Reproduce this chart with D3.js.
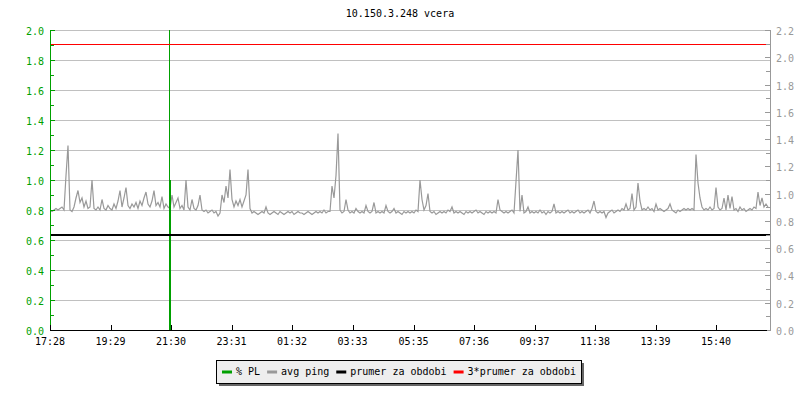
<!DOCTYPE html>
<meta charset="utf-8">
<script src="https://d3js.org/d3.v7.min.js"></script>
<style>
  body { margin: 0; background: #fff; }
  text { font-family: "DejaVu Sans Mono", monospace; font-size: 10px; }
</style>
<body>
<div id="chart"></div>
<script>

// chart data
var titleText = "10.150.3.248 vcera";
var xTickLabels = ["17:28","19:29","21:30","23:31","01:32","03:33","05:35","07:36","09:37","11:38","13:39","15:40"];
var xTickMinutes = [0, 121, 242, 363, 484, 605, 727, 848, 969, 1090, 1211, 1332];
var sampleMinutes = 4;   // one ping sample every 4 minutes
var pingValues = [
  0.80,0.79,0.80,0.81,0.80,0.81,0.82,0.80,1.03,1.23,0.80,0.79,0.82,0.88,0.93,0.85,0.88,0.82,0.86,0.81,
  0.82,1.00,0.81,0.80,0.82,0.80,0.87,0.81,0.80,0.83,0.81,0.80,0.84,0.81,0.86,0.93,0.82,0.88,0.95,0.83,
  0.81,0.84,0.82,0.85,0.81,0.86,0.83,0.88,0.92,0.84,0.82,0.86,0.93,0.83,0.85,0.82,0.89,0.81,0.84,0.82,
  0.81,0.90,0.82,0.85,0.88,0.81,0.83,0.80,1.00,0.82,0.80,0.87,0.81,0.80,0.83,0.90,0.80,0.79,0.80,0.78,
  0.79,0.80,0.78,0.79,0.76,0.78,0.90,0.85,0.96,0.88,1.07,0.87,0.82,0.86,0.83,0.87,0.82,0.86,0.90,1.07,
  0.81,0.78,0.79,0.78,0.77,0.78,0.79,0.78,0.82,0.78,0.77,0.78,0.79,0.78,0.77,0.79,0.78,0.77,0.78,0.79,
  0.78,0.79,0.77,0.78,0.79,0.78,0.78,0.77,0.78,0.79,0.78,0.77,0.78,0.79,0.78,0.79,0.78,0.80,0.78,0.79,
  0.79,0.96,0.88,1.03,1.31,0.80,0.78,0.79,0.87,0.80,0.78,0.79,0.78,0.81,0.79,0.78,0.79,0.78,0.83,0.79,
  0.78,0.79,0.85,0.78,0.79,0.78,0.79,0.78,0.83,0.79,0.78,0.79,0.81,0.78,0.79,0.78,0.77,0.79,0.78,0.79,
  0.78,0.79,0.78,0.80,0.79,1.00,0.87,0.80,0.83,0.91,0.79,0.78,0.79,0.77,0.78,0.79,0.78,0.79,0.78,0.80,
  0.79,0.82,0.78,0.79,0.78,0.79,0.78,0.77,0.79,0.78,0.79,0.78,0.79,0.80,0.78,0.79,0.78,0.77,0.79,0.78,
  0.79,0.78,0.79,0.78,0.87,0.80,0.79,0.78,0.79,0.78,0.79,0.80,0.78,0.99,1.20,0.79,0.90,0.78,0.79,0.82,
  0.78,0.79,0.78,0.79,0.78,0.80,0.78,0.79,0.77,0.79,0.78,0.79,0.84,0.78,0.79,0.78,0.79,0.78,0.79,0.80,
  0.78,0.79,0.78,0.79,0.80,0.78,0.79,0.78,0.79,0.80,0.78,0.81,0.86,0.79,0.78,0.79,0.78,0.79,0.75,0.78,
  0.79,0.80,0.78,0.79,0.80,0.79,0.81,0.80,0.84,0.80,0.81,0.91,0.80,0.82,0.98,0.86,0.80,0.81,0.80,0.82,
  0.80,0.81,0.79,0.84,0.80,0.81,0.80,0.79,0.80,0.81,0.84,0.80,0.79,0.78,0.80,0.79,0.80,0.81,0.80,0.81,
  0.80,0.81,0.80,1.17,0.98,0.88,0.82,0.80,0.81,0.80,0.82,0.80,0.81,0.95,0.82,0.80,0.81,0.88,0.80,0.90,
  0.81,0.89,0.80,0.81,0.79,0.82,0.80,0.81,0.79,0.80,0.81,0.80,0.82,0.81,0.92,0.83,0.88,0.82,0.84,0.82
];
var plMinutes = [240];
var plValues = [1.0];      // % PL sample
var plMaxValues = [2.5];   // peak in the same slot, runs off the top
var averageValue = 0.634;  // prumer za obdobi
var legendLabels = ["% PL", "avg ping", "prumer za obdobi", "3*prumer za obdobi"];
var legendColors = ["#00a000", "#999999", "#000000", "#ff0000"];

var width = 800, height = 400;
var plot = {left: 50, right: 770, top: 30, bottom: 330};

var svg = d3.select("#chart")
  .append("svg")
    .attr("width", width)
    .attr("height", height);

var x = d3.scaleLinear().domain([0, 1440]).range([plot.left, plot.right]);
var y = d3.scaleLinear().domain([0, 2.0]).range([plot.bottom, plot.top]);
var yRight = d3.scaleLinear().domain([0, 2.2]).range([plot.bottom, plot.top]);

svg.append("clipPath").attr("id", "clip")
  .append("rect")
    .attr("x", plot.left).attr("y", plot.top)
    .attr("width", plot.right - plot.left).attr("height", plot.bottom - plot.top);

// title
svg.append("text")
  .attr("x", width / 2)
  .attr("y", 17)
  .attr("text-anchor", "middle")
  .attr("fill", "#000")
  .text(titleText);

// grid
svg.append("g")
  .selectAll("line")
  .data(d3.range(1, 11).map(function(i) { return i * 0.2; }))
  .enter()
  .append("line")
    .attr("x1", plot.left).attr("x2", plot.right)
    .attr("y1", function(d) { return y(d); })
    .attr("y2", function(d) { return y(d); })
    .attr("stroke", "#c0c0c0")
    .attr("shape-rendering", "crispEdges");

// avg ping
var pingLine = d3.line()
  .x(function(d, i) { return x(i * sampleMinutes); })
  .y(function(d) { return y(d); });

svg.append("path")
  .datum(pingValues)
  .attr("clip-path", "url(#clip)")
  .attr("fill", "none")
  .attr("stroke", "#999999")
  .attr("stroke-width", 1.2)
  .attr("d", pingLine);

// % PL
svg.append("g").attr("clip-path", "url(#clip)")
  .selectAll("line")
  .data(plMinutes)
  .enter()
  .append("line")
    .attr("x1", function(d) { return x(d) - 0.5; })
    .attr("x2", function(d) { return x(d) - 0.5; })
    .attr("y1", function(d, i) { return y(plValues[i]); })
    .attr("y2", function(d, i) { return y(plMaxValues[i]); })
    .attr("stroke", "#00a000")
    .attr("stroke-width", 1);

svg.append("g").attr("clip-path", "url(#clip)")
  .selectAll("line")
  .data(plMinutes)
  .enter()
  .append("line")
    .attr("x1", function(d) { return x(d); })
    .attr("x2", function(d) { return x(d); })
    .attr("y1", y(0))
    .attr("y2", function(d, i) { return y(plValues[i]); })
    .attr("stroke", "#00a000")
    .attr("stroke-width", 2);

// average and 3*average
svg.append("line")
  .attr("x1", plot.left).attr("x2", plot.right)
  .attr("y1", y(averageValue)).attr("y2", y(averageValue))
  .attr("stroke", "#000").attr("stroke-width", 2);

svg.append("line")
  .attr("x1", plot.left).attr("x2", plot.right)
  .attr("y1", y(3 * averageValue)).attr("y2", y(3 * averageValue))
  .attr("stroke", "#ff0000").attr("stroke-width", 1)
  .attr("shape-rendering", "crispEdges");

// left axis (green)
var leftAxis = svg.append("g")
  .attr("transform", "translate(" + plot.left + ",0)")
  .call(d3.axisRight(y).tickValues(d3.range(0, 21).map(function(i) { return i / 10; }))
    .tickSize(5).tickFormat(""));
leftAxis.select(".domain").attr("stroke", "#00a000").attr("shape-rendering", "crispEdges");
leftAxis.selectAll(".tick line")
  .attr("stroke", "#00a000")
  .attr("x2", function(d, i) { return i % 2 == 0 ? 5 : 4; })
  .attr("shape-rendering", "crispEdges");

svg.append("g")
  .selectAll("text")
  .data(y.ticks(10))
  .enter()
  .append("text")
    .attr("x", 44)
    .attr("y", function(d) { return y(d) + 5; })
    .attr("text-anchor", "end")
    .attr("fill", "#00a000")
    .text(function(d) { return d3.format(".1f")(d); });

// right axis (gray)
var rightAxis = svg.append("g")
  .attr("transform", "translate(" + plot.right + ",0)")
  .call(d3.axisLeft(yRight).tickValues(d3.range(0, 23).map(function(i) { return i / 10; }))
    .tickSize(5).tickFormat(""));
rightAxis.select(".domain").attr("stroke", "#999999").attr("shape-rendering", "crispEdges");
rightAxis.selectAll(".tick line")
  .attr("stroke", "#999999")
  .attr("x2", function(d, i) { return i % 2 == 0 ? -5 : -4; })
  .attr("shape-rendering", "crispEdges");

svg.append("g")
  .selectAll("text")
  .data(d3.range(0, 12).map(function(i) { return i * 0.2; }))
  .enter()
  .append("text")
    .attr("x", 776)
    .attr("y", function(d) { return yRight(d) + 5; })
    .attr("fill", "#999999")
    .text(function(d) { return d3.format(".1f")(d); });

// bottom axis
var xAxis = svg.append("g")
  .attr("transform", "translate(0," + plot.bottom + ")")
  .call(d3.axisTop(x).tickValues(xTickMinutes).tickSize(5).tickFormat(""));
xAxis.select(".domain").attr("stroke", "#000").attr("d", "M" + plot.left + ",0H" + (plot.right - 3))
  .attr("shape-rendering", "crispEdges");
xAxis.selectAll(".tick line").attr("stroke", "#000").attr("shape-rendering", "crispEdges");

svg.append("g")
  .selectAll("text")
  .data(xTickMinutes)
  .enter()
  .append("text")
    .attr("x", function(d) { return x(d); })
    .attr("y", 345)
    .attr("text-anchor", "middle")
    .attr("fill", "#000")
    .text(function(d, i) { return xTickLabels[i]; });

// legend
var legend = svg.append("g");
legend.append("rect")
  .attr("x", 219).attr("y", 363).attr("width", 365).attr("height", 23)
  .attr("fill", "#666");
legend.append("rect")
  .attr("x", 216.5).attr("y", 360.5).attr("width", 365).attr("height", 23)
  .attr("fill", "#eeeeee").attr("stroke", "#000");

var lx = 222;
legendLabels.forEach(function(label, i) {
  legend.append("line")
    .attr("x1", lx).attr("x2", lx + 10)
    .attr("y1", 372).attr("y2", 372)
    .attr("stroke", legendColors[i]).attr("stroke-width", 3);
  var t = legend.append("text")
    .attr("x", lx + 14).attr("y", 375)
    .attr("fill", "#000")
    .text(label);
  lx = lx + 14 + t.node().getComputedTextLength() + 7;
});

</script>
</body>
